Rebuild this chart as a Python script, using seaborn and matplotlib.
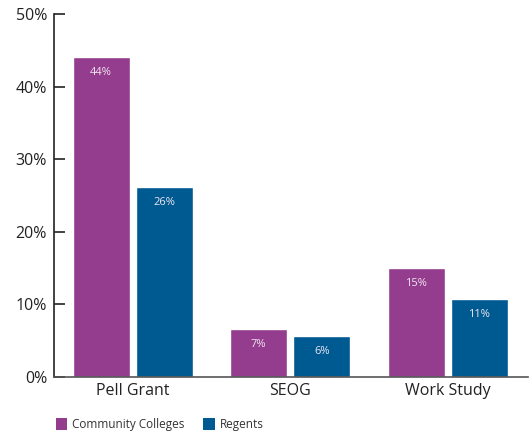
import matplotlib
matplotlib.use("Agg")
import matplotlib.pyplot as plt
import seaborn as sns
import pandas as pd
from matplotlib.patches import Patch
from matplotlib.ticker import FuncFormatter

programs = ["Pell Grant", "SEOG", "Work Study"]
community_colleges = [44.1, 6.6, 15.0]
regents = [26.2, 5.6, 10.7]
series_names = ["Community Colleges", "Regents"]
colors = ["#943c8e", "#005a92"]

df = pd.DataFrame({
    "program": programs * 2,
    "share": community_colleges + regents,
    "group": [series_names[0]] * 3 + [series_names[1]] * 3,
})

sns.set_theme(style="white")
plt.rcParams["font.family"] = ["Open Sans", "DejaVu Sans"]

fig = plt.figure(figsize=(5.31, 4.34), dpi=100)
ax = fig.add_axes([54 / 531, 57 / 434, 474 / 531, 363 / 434])

sns.barplot(data=df, x="program", y="share", hue="group", order=programs,
            hue_order=series_names, palette=colors, width=0.8, gap=0.095,
            saturation=1, errorbar=None, legend=False, ax=ax)

for container in ax.containers:
    for bar in container:
        h = bar.get_height()
        ax.annotate(f"{h:.0f}%", (bar.get_x() + bar.get_width() / 2, h),
                    xytext=(0, -11), textcoords="offset points",
                    ha="center", va="center", fontsize=8, color="#f0e6f0")

ax.set_xlim(-0.5, 2.51)
ax.set_ylim(0, 50)
ax.set_yticks(range(0, 51, 10))
ax.yaxis.set_major_formatter(FuncFormatter(lambda v, p: f"{v:.0f}%"))
ax.set_xlabel("")
ax.set_ylabel("")

for side in ["top", "right"]:
    ax.spines[side].set_visible(False)
ax.spines["left"].set_color("#222222")
ax.spines["left"].set_linewidth(1.2)
ax.spines["bottom"].set_color("#555555")
ax.spines["bottom"].set_linewidth(1.2)

ax.tick_params(axis="y", direction="in", length=8, width=1.2, color="#222222",
               labelsize=11.5, labelcolor="#222222", pad=5, left=True)
ax.tick_params(axis="x", length=0, labelsize=11.5, labelcolor="#222222", pad=4)

handles = [Patch(facecolor=c, edgecolor="none") for c in colors]
fig.legend(handles, series_names, loc="lower left", bbox_to_anchor=(45 / 531, -0.018),
           ncol=2, frameon=False, fontsize=8.5, handlelength=1.0, handleheight=1.2,
           handletextpad=0.4, columnspacing=1.6, labelcolor="#333333")

fig.savefig("out.png", dpi=100)
